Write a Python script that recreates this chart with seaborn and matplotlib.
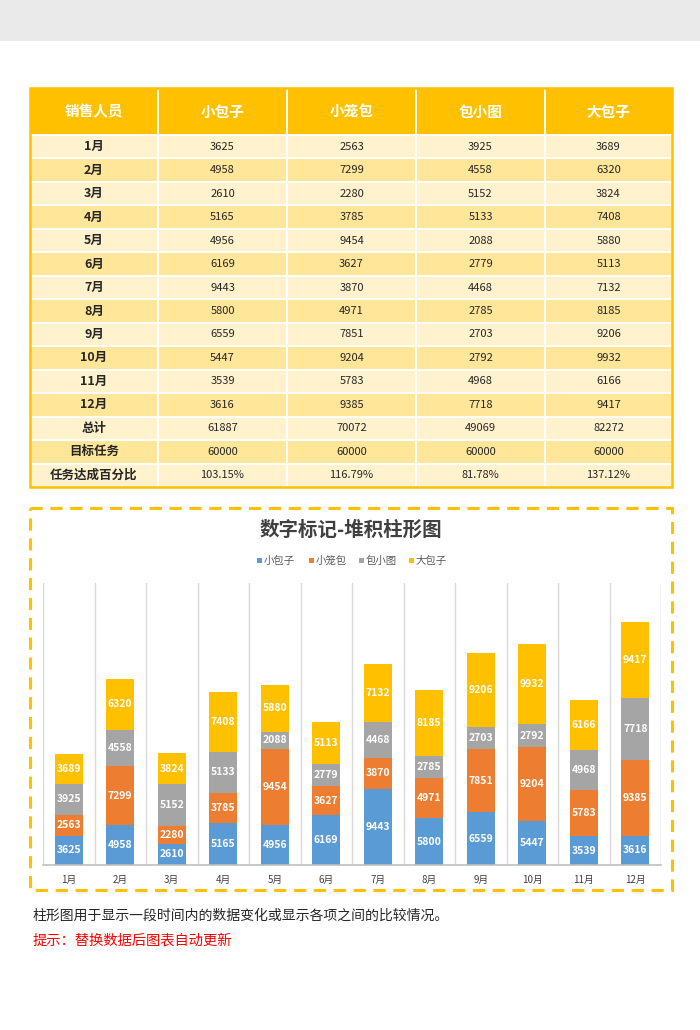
import numpy as np
import pandas as pd
import matplotlib
matplotlib.use("Agg")
import matplotlib.pyplot as plt
from matplotlib.patches import Rectangle
import seaborn as sns

# ---------------- data ----------------
months = ["1月", "2月", "3月", "4月", "5月", "6月", "7月", "8月", "9月", "10月", "11月", "12月"]
series_names = ["小包子", "小笼包", "包小图", "大包子"]
xiaobaozi = [3625, 4958, 2610, 5165, 4956, 6169, 9443, 5800, 6559, 5447, 3539, 3616]
xiaolongbao = [2563, 7299, 2280, 3785, 9454, 3627, 3870, 4971, 7851, 9204, 5783, 9385]
baoxiaotu = [3925, 4558, 5152, 5133, 2088, 2779, 4468, 2785, 2703, 2792, 4968, 7718]
dabaozi = [3689, 6320, 3824, 7408, 5880, 5113, 7132, 8185, 9206, 9932, 6166, 9417]
totals = [61887, 70072, 49069, 82272]
targets = [60000, 60000, 60000, 60000]
percents = ["103.15%", "116.79%", "81.78%", "137.12%"]
header_first = "销售人员"
extra_rows = ["总计", "目标任务", "任务达成百分比"]
title = "数字标记-堆积柱形图"
note1 = "柱形图用于显示一段时间内的数据变化或显示各项之间的比较情况。"
note2 = "提示：替换数据后图表自动更新"

colors = ["#5B9BD5", "#ED7D31", "#A5A5A5", "#FFC000"]

sns.set_theme(style="white")
plt.rcParams["font.family"] = ["Noto Sans CJK SC", "DejaVu Sans"]

W, H = 700, 1030
fig = plt.figure(figsize=(W / 100, H / 100), dpi=100)
fig.patch.set_facecolor("white")

# overlay axes in pixel coordinates
ov = fig.add_axes([0, 0, 1, 1])
ov.set_xlim(0, W)
ov.set_ylim(H, 0)
ov.axis("off")

# top gray band
ov.add_patch(Rectangle((0, 0), W, 41, facecolor="#EAEAEA", edgecolor="none"))

# ---------------- table ----------------
col_edges = [30, 158, 287, 416, 545, 672]
head_top, head_bot = 88, 135
row_h = (487 - head_bot) / 15.0

ov.add_patch(Rectangle((col_edges[0], head_top), col_edges[-1] - col_edges[0], head_bot - head_top,
                       facecolor="#FFC000", edgecolor="none"))
headers = [header_first] + series_names
for i, h in enumerate(headers):
    cx = (col_edges[i] + col_edges[i + 1]) / 2
    ov.text(cx, (head_top + head_bot) / 2, h, ha="center", va="center", color="white",
            fontsize=10.5, fontweight="bold")

series = [xiaobaozi, xiaolongbao, baoxiaotu, dabaozi]
row_labels = months + extra_rows
rows = []
for m in range(12):
    rows.append([str(s[m]) for s in series])
rows.append([str(v) for v in totals])
rows.append([str(v) for v in targets])
rows.append(percents)

for r, (lab, vals) in enumerate(zip(row_labels, rows)):
    y0 = head_bot + r * row_h
    fc = "#FFF2CC" if r % 2 == 0 else "#FFE699"
    ov.add_patch(Rectangle((col_edges[0], y0), col_edges[-1] - col_edges[0], row_h,
                           facecolor=fc, edgecolor="none"))
    cy = y0 + row_h / 2
    ov.text((col_edges[0] + col_edges[1]) / 2, cy, lab, ha="center", va="center",
            color="#262626", fontsize=9, fontweight="semibold")
    for j, v in enumerate(vals):
        cx = (col_edges[j + 1] + col_edges[j + 2]) / 2
        ov.text(cx, cy, v, ha="center", va="center", color="#262626", fontsize=8)

# white separators
ov.plot([col_edges[0], col_edges[-1]], [head_bot, head_bot], color="white", lw=1.4, zorder=3)
for r in range(1, 15):
    y = head_bot + r * row_h
    ov.plot([col_edges[0], col_edges[-1]], [y, y], color="white", lw=1.4, zorder=3)
for x in col_edges[1:-1]:
    ov.plot([x, x], [head_top, 487], color="white", lw=1.4, zorder=3)
ov.add_patch(Rectangle((col_edges[0], head_top), col_edges[-1] - col_edges[0], 487 - head_top,
                       facecolor="none", edgecolor="#FFC000", lw=1.8, zorder=4))

# ---------------- dashed chart box ----------------
ov.add_patch(Rectangle((30, 508), 642, 382, facecolor="none", edgecolor="#FFC000",
                       lw=2.2, linestyle=(0, (4, 2.5)), zorder=4))
ov.text(351, 530, title, ha="center", va="center", color="#404040", fontsize=14, fontweight="bold")

# legend
lx = [257, 309, 359, 409]
for k, name in enumerate(series_names):
    ov.add_patch(Rectangle((lx[k], 558), 5, 5, facecolor=colors[k], edgecolor="none"))
    ov.text(lx[k] + 7, 561, name, ha="left", va="center", color="#595959", fontsize=7.5)

# notes
ov.text(33, 916, note1, ha="left", va="center", color="#262626", fontsize=10)
ov.text(33, 941, note2, ha="left", va="center", color="#FF0000", fontsize=10.3)

# ---------------- stacked bar chart ----------------
left_px, right_px, top_px, bot_px = 43, 661, 583, 865
ax = fig.add_axes([left_px / W, 1 - bot_px / H, (right_px - left_px) / W, (bot_px - top_px) / H])
ax.set_facecolor("none")

df = pd.DataFrame({"month": months, "s1": xiaobaozi, "s2": xiaolongbao, "s3": baoxiaotu, "s4": dabaozi})
cum = df[["s1", "s2", "s3", "s4"]].cumsum(axis=1)
# draw from the top of the stack down so each layer covers the one below
for k in [3, 2, 1, 0]:
    sns.barplot(x=df["month"], y=cum.iloc[:, k], color=colors[k], width=0.54,
                saturation=1, ax=ax, zorder=2, edgecolor="none", linewidth=0)

vals_arr = df[["s1", "s2", "s3", "s4"]].to_numpy()
cum_arr = cum.to_numpy()
for i in range(12):
    for k in range(4):
        mid = cum_arr[i, k] - vals_arr[i, k] / 2
        ax.text(i, mid, str(vals_arr[i, k]), ha="center", va="center", color="white",
                fontsize=7.5, fontweight="semibold", zorder=5)

ax.set_xlim(-0.5, 11.5)
ax.set_ylim(0, 35000)
for b in np.arange(-0.5, 12, 1.0):
    ax.axvline(b, color="#D9D9D9", lw=1, zorder=1)
for s in ["top", "left", "right"]:
    ax.spines[s].set_visible(False)
ax.spines["bottom"].set_color("#BFBFBF")
ax.spines["bottom"].set_linewidth(1.2)
ax.set_yticks([])
ax.set_xlabel("")
ax.set_ylabel("")
ax.tick_params(axis="x", length=0, pad=7, labelsize=7, labelcolor="#404040")

fig.savefig("out.png", dpi=100, facecolor="white")
